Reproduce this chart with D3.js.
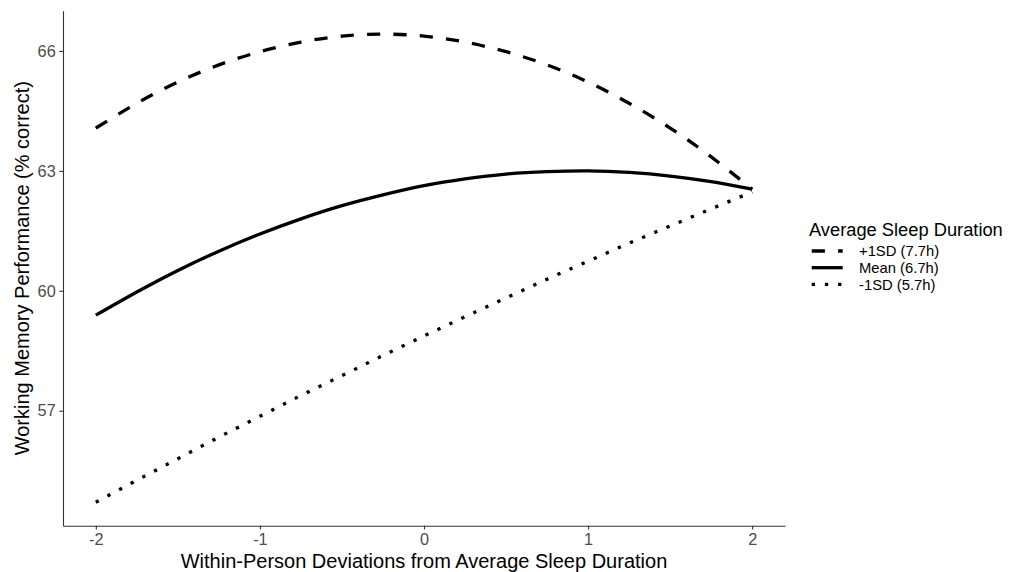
<!DOCTYPE html>
<html>
<head>
<meta charset="utf-8">
<script src="https://cdn.jsdelivr.net/npm/d3@7"></script>
<style>
  body { margin: 0; background: #fff; }
  svg { font-family: "Liberation Sans", Arial, sans-serif; }
</style>
</head>
<body>
<svg id="chart" width="1019" height="572"></svg>
<script>
// deviations from average sleep duration (x)
const deviations = [-2, -1.75, -1.5, -1.25, -1, -0.75, -0.5, -0.25, 0, 0.25, 0.5, 0.75, 1, 1.25, 1.5, 1.75, 2];

// predicted working memory
const plusSD = [64.07, 64.69, 65.22, 65.65, 65.98, 66.22, 66.37, 66.42, 66.37, 66.22, 65.98, 65.65, 65.22, 64.69, 64.07, 63.35, 62.54];
const meanSD = [59.39, 59.97, 60.51, 60.99, 61.42, 61.80, 62.13, 62.40, 62.63, 62.80, 62.92, 62.98, 63.00, 62.96, 62.87, 62.73, 62.54];
const minusSD = [54.71, 55.26, 55.80, 56.34, 56.86, 57.38, 57.88, 58.38, 58.87, 59.35, 59.82, 60.29, 60.74, 61.19, 61.62, 62.05, 62.47];

const seriesNames = ["+1SD (7.7h)", "Mean (6.7h)", "-1SD (5.7h)"];
const xTicks = [-2, -1, 0, 1, 2];
const yTicks = [57, 60, 63, 66];

const lw = 3.3;
const dashes = [lw * 4 + "," + lw * 4, null, lw + "," + lw * 3];

const svg = d3.select("#chart");
const plotLeft = 63, plotRight = 785, plotTop = 10.7, plotBottom = 525.7;

// ggplot style 5% expansion
function expand(ext) {
  const pad = (ext[1] - ext[0]) * 0.05;
  return [ext[0] - pad, ext[1] + pad];
}

const allY = plusSD.concat(meanSD, minusSD);
const x = d3.scaleLinear().domain(expand(d3.extent(deviations))).range([plotLeft, plotRight]);
const y = d3.scaleLinear().domain(expand(d3.extent(allY))).range([plotBottom, plotTop]);

const series = [plusSD, meanSD, minusSD].map((vals, i) => ({
  name: seriesNames[i],
  dash: dashes[i],
  values: vals.map((v, j) => ({ x: deviations[j], y: v }))
}));

const line = d3.line()
  .x(d => x(d.x))
  .y(d => y(d.y))
  .curve(d3.curveNatural);

svg.append("g")
  .selectAll("path")
  .data(series)
  .enter().append("path")
    .attr("d", d => line(d.values))
    .attr("fill", "none")
    .attr("stroke", "#000")
    .attr("stroke-width", lw)
    .attr("stroke-dasharray", d => d.dash);

// axes
const xAxis = svg.append("g")
  .attr("transform", "translate(0," + plotBottom + ")")
  .call(d3.axisBottom(x).tickValues(xTicks).tickSize(3.7).tickSizeOuter(0).tickPadding(4).tickFormat(d3.format("d")));
const yAxis = svg.append("g")
  .attr("transform", "translate(" + plotLeft + ",0)")
  .call(d3.axisLeft(y).tickValues(yTicks).tickSize(3.7).tickSizeOuter(0).tickPadding(3.6));

[xAxis, yAxis].forEach(g => {
  g.select(".domain").attr("stroke", "#333").attr("stroke-width", 1.1);
  g.selectAll(".tick line").attr("stroke", "#333").attr("stroke-width", 1.1);
  g.selectAll(".tick text")
    .attr("fill", "#4d4d4d")
    .style("font-size", "16.3px")
    .style("font-family", "'Liberation Sans', Arial, sans-serif");
});
// plain hyphen for negatives, like the original
xAxis.selectAll(".tick text").text(d => String(d));

svg.append("text")
  .attr("x", (plotLeft + plotRight) / 2)
  .attr("y", 567.5)
  .attr("text-anchor", "middle")
  .style("font-size", "20px")
  .text("Within-Person Deviations from Average Sleep Duration");

svg.append("text")
  .attr("transform", "translate(29.3," + (plotTop + plotBottom) / 2 + ") rotate(-90)")
  .attr("text-anchor", "middle")
  .style("font-size", "20px")
  .text("Working Memory Performance (% correct)");

// legend
const legend = svg.append("g").attr("transform", "translate(809,0)");
legend.append("text")
  .attr("x", 0)
  .attr("y", 236)
  .style("font-size", "18.3px")
  .text("Average Sleep Duration");

const item = legend.selectAll(".item")
  .data(series)
  .enter().append("g")
    .attr("class", "item")
    .attr("transform", (d, i) => "translate(0," + (251 + i * 16.7) + ")");
item.append("line")
  .attr("x1", 2.7).attr("x2", 33.7)
  .attr("stroke", "#000")
  .attr("stroke-width", lw)
  .attr("stroke-dasharray", d => d.dash);
item.append("text")
  .attr("x", 50)
  .attr("y", 5.3)
  .style("font-size", "14.8px")
  .text(d => d.name);
</script>
</body>
</html>
